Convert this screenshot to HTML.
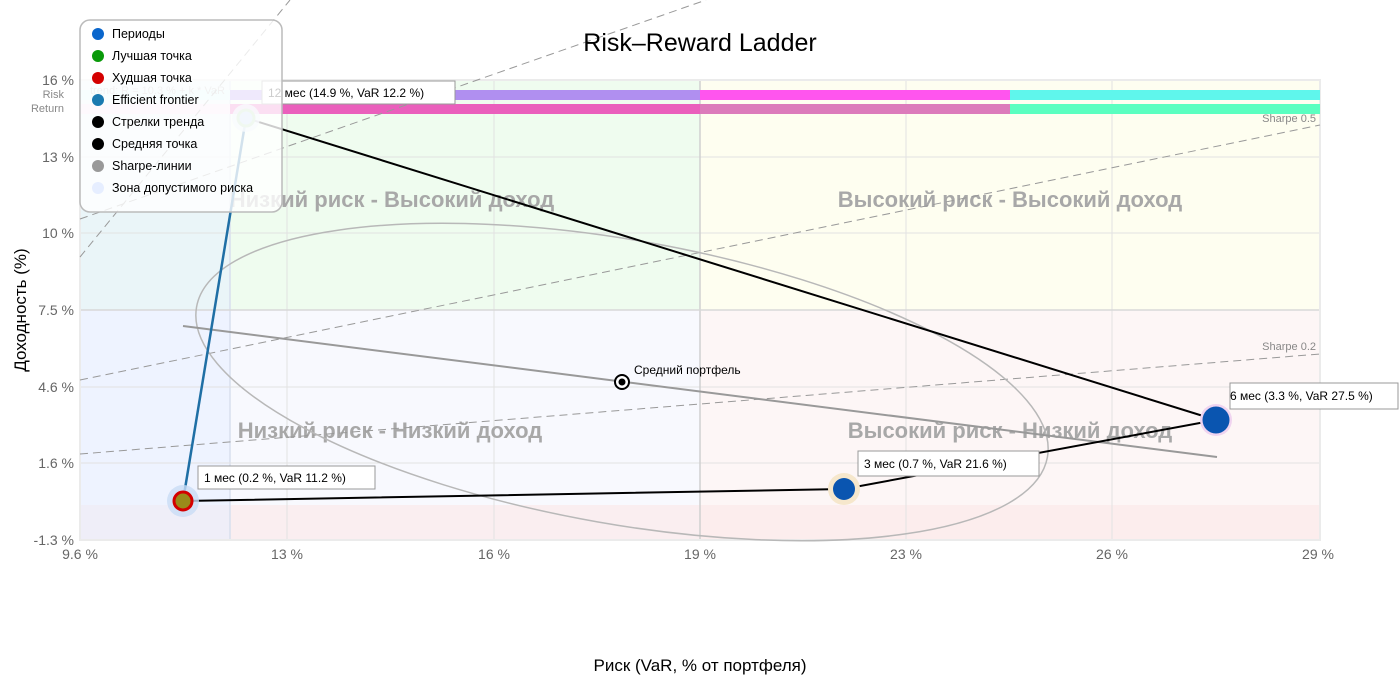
<!DOCTYPE html>
<html><head><meta charset="utf-8"><style>
body{margin:0;background:#fff;}
svg{display:block;font-family:"Liberation Sans","DejaVu Sans",sans-serif;}
</style></head><body>
<svg width="1400" height="700" viewBox="0 0 1400 700" xmlns="http://www.w3.org/2000/svg">
<rect x="80" y="80" width="620" height="230" fill="#effcef"/>
<rect x="700" y="80" width="620" height="230" fill="#fefef0"/>
<rect x="80" y="310" width="620" height="230" fill="#f8f9fe"/>
<rect x="700" y="310" width="620" height="230" fill="#fdf6f6"/>
<rect x="80" y="505" width="1240" height="35" fill="#fbeaea" opacity="0.7"/>
<rect x="80" y="80" width="150" height="460" fill="#e6eeff" opacity="0.55"/>
<line x1="230" y1="80" x2="230" y2="540" stroke="#d8dfee" stroke-width="1.5"/>
<g stroke="#e2e2e2" stroke-width="1">
<line x1="287" y1="80" x2="287" y2="540"/><line x1="494" y1="80" x2="494" y2="540"/>
<line x1="906" y1="80" x2="906" y2="540"/><line x1="1112" y1="80" x2="1112" y2="540"/>
<line x1="80" y1="157" x2="1320" y2="157"/><line x1="80" y1="233" x2="1320" y2="233"/>
<line x1="80" y1="387" x2="1320" y2="387"/><line x1="80" y1="463" x2="1320" y2="463"/>
</g>
<line x1="700" y1="80" x2="700" y2="540" stroke="#d0d0d0" stroke-width="1.5"/>
<line x1="80" y1="310" x2="1320" y2="310" stroke="#d8d8d8" stroke-width="1.5"/>
<rect x="80" y="80" width="1240" height="460" fill="none" stroke="#ebebeb" stroke-width="2"/>
<rect x="80" y="90" width="150" height="10" fill="#d8fbfb"/>
<rect x="230" y="90" width="470" height="10" fill="#b08ff0"/>
<rect x="700" y="90" width="310" height="10" fill="#ff55ee"/>
<rect x="1010" y="90" width="310" height="10" fill="#5ff6ec"/>
<rect x="80" y="104" width="150" height="10" fill="#fbe2f2"/>
<rect x="230" y="104" width="470" height="10" fill="#ea5fbc"/>
<rect x="700" y="104" width="310" height="10" fill="#dc7bbb"/>
<rect x="1010" y="104" width="310" height="10" fill="#5affc0"/>
<text x="64" y="98" font-size="11" fill="#888" text-anchor="end">Risk</text>
<text x="64" y="112" font-size="11" fill="#888" text-anchor="end">Return</text>
<text x="90" y="94" font-size="11" fill="#bbb">trend: R = 10.3 % + k * VaR</text>
<g font-size="22" fill="#a8a8a8" text-anchor="middle" font-weight="bold">
<text x="392" y="207">Низкий риск - Высокий доход</text>
<text x="1010" y="207">Высокий риск - Высокий доход</text>
<text x="390" y="438">Низкий риск - Низкий доход</text>
<text x="1010" y="438">Высокий риск - Низкий доход</text>
</g>
<g stroke="#999" stroke-width="1" stroke-dasharray="8,5" fill="none">
<line x1="80" y1="257" x2="290" y2="0"/>
<line x1="80" y1="219" x2="706" y2="0"/>
<line x1="80" y1="380" x2="1320" y2="125"/>
<line x1="80" y1="454" x2="1320" y2="354"/>
</g>
<text x="1316" y="122" font-size="11" fill="#888" text-anchor="end">Sharpe 0.5</text>
<text x="1316" y="350" font-size="11" fill="#888" text-anchor="end">Sharpe 0.2</text>
<ellipse cx="622" cy="382" rx="432" ry="142" transform="rotate(10 622 382)" fill="none" stroke="#b8b8b8" stroke-width="1.5"/>
<line x1="183" y1="326" x2="1217" y2="457" stroke="#999" stroke-width="2"/>
<polyline points="246,118 1216,420" stroke="#000" stroke-width="2" fill="none"/>
<polyline points="183,501 844,489 1216,420" stroke="#000" stroke-width="2" fill="none"/>
<line x1="183" y1="501" x2="246" y2="118" stroke="#1f6fa5" stroke-width="2.5"/>
<circle cx="183" cy="501" r="16" fill="#c9dcf5" opacity="0.8"/>
<circle cx="183" cy="501" r="9" fill="#9a8a1a" stroke="#d40000" stroke-width="3"/>
<circle cx="246" cy="118" r="14" fill="#dfe9f8" opacity="0.8"/>
<circle cx="246" cy="118" r="8" fill="#bcd4f2" stroke="#b5dbb5" stroke-width="3"/>
<circle cx="844" cy="489" r="16" fill="#f6e7cc"/>
<circle cx="844" cy="489" r="11" fill="#0a55b0"/>
<circle cx="1216" cy="420" r="16" fill="#f0d4f0"/>
<circle cx="1216" cy="420" r="13.5" fill="#0a55b0"/>
<circle cx="622" cy="382" r="7" fill="#fff" stroke="#000" stroke-width="2"/>
<circle cx="622" cy="382" r="3.5" fill="#000"/>
<text x="634" y="374" font-size="12" fill="#000">Средний портфель</text>
<g font-size="12" fill="#000">
<rect x="262" y="81" width="193" height="23" fill="#fff" stroke="#999"/>
<text x="268" y="97">12 мес (14.9 %, VaR 12.2 %)</text>
<rect x="198" y="466" width="177" height="23" fill="#fff" stroke="#999"/>
<text x="204" y="482">1 мес (0.2 %, VaR 11.2 %)</text>
<rect x="858" y="451" width="181" height="25" fill="#fff" stroke="#999"/>
<text x="864" y="468">3 мес (0.7 %, VaR 21.6 %)</text>
<rect x="1230" y="383" width="168" height="26" fill="#fff" stroke="#999"/>
<text x="1230" y="400">6 мес (3.3 %, VaR 27.5 %)</text>
</g>
<rect x="80" y="20" width="202" height="192" rx="10" fill="#fff" fill-opacity="0.8" stroke="#bbb" stroke-width="1.5"/>
<g font-size="12.5" fill="#000">
<circle cx="98" cy="34" r="6" fill="#0a66cc"/><text x="112" y="38">Периоды</text>
<circle cx="98" cy="56" r="6" fill="#0a9a0a"/><text x="112" y="60">Лучшая точка</text>
<circle cx="98" cy="78" r="6" fill="#d40000"/><text x="112" y="82">Худшая точка</text>
<circle cx="98" cy="100" r="6" fill="#1a7ab0"/><text x="112" y="104">Efficient frontier</text>
<circle cx="98" cy="122" r="6" fill="#000"/><text x="112" y="126">Стрелки тренда</text>
<circle cx="98" cy="144" r="6" fill="#000"/><text x="112" y="148">Средняя точка</text>
<circle cx="98" cy="166" r="6" fill="#999"/><text x="112" y="170">Sharpe-линии</text>
<circle cx="98" cy="188" r="6" fill="#e6eeff"/><text x="112" y="192">Зона допустимого риска</text>
</g>
<text x="700" y="51" font-size="25" text-anchor="middle" fill="#000">Risk–Reward Ladder</text>
<g font-size="14" fill="#666" text-anchor="end">
<text x="74" y="85">16 %</text><text x="74" y="162">13 %</text><text x="74" y="238">10 %</text>
<text x="74" y="315">7.5 %</text><text x="74" y="392">4.6 %</text><text x="74" y="468">1.6 %</text>
<text x="74" y="545">-1.3 %</text>
</g>
<g font-size="14" fill="#666" text-anchor="middle">
<text x="80" y="559">9.6 %</text><text x="287" y="559">13 %</text><text x="494" y="559">16 %</text>
<text x="700" y="559">19 %</text><text x="906" y="559">23 %</text><text x="1112" y="559">26 %</text>
<text x="1318" y="559">29 %</text>
</g>
<text x="700" y="671" font-size="17" text-anchor="middle" fill="#000">Риск (VaR, % от портфеля)</text>
<text transform="translate(26 310) rotate(-90)" font-size="17" text-anchor="middle" fill="#000">Доходность (%)</text>
</svg>
</body></html>
